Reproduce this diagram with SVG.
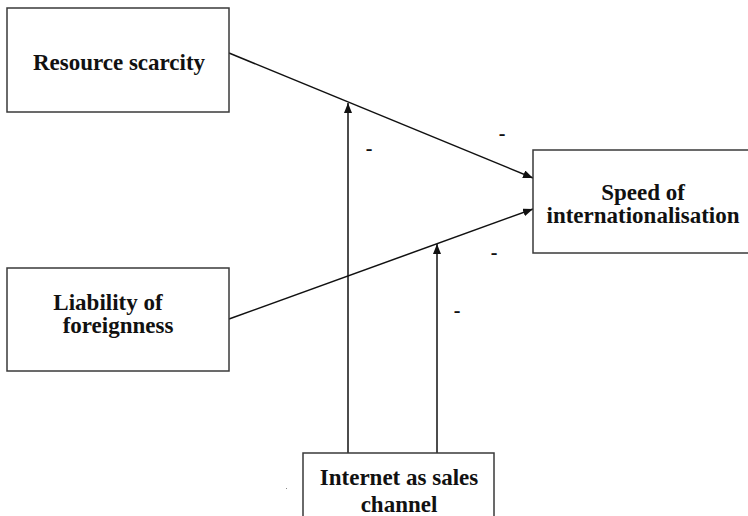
<svg xmlns="http://www.w3.org/2000/svg" width="748" height="516" viewBox="0 0 748 516">
<style>
.box{fill:#fff;stroke:#3a3a3a;stroke-width:1.5}
.lbl{font-family:'Liberation Serif','DejaVu Serif',serif;font-weight:700;font-size:23px;fill:#111;text-anchor:middle}
.sign{font-family:'Liberation Serif','DejaVu Serif',serif;font-weight:700;font-size:20px;fill:#111;text-anchor:middle}
.conn{stroke:#111;stroke-width:1.5;fill:none;marker-end:url(#arr)}
</style>
<defs>
<marker id="arr" viewBox="0 0 10 8" refX="10" refY="4" markerWidth="10" markerHeight="8" markerUnits="userSpaceOnUse" orient="auto">
<path d="M0,0 L10,4 L0,8 Z" fill="#111"/>
</marker>
</defs>
<rect width="748" height="516" fill="#fff"/>
<g id="connectors">
<line class="conn" x1="229" y1="53" x2="533" y2="178"/>
<line class="conn" x1="229" y1="319" x2="533" y2="209"/>
<line class="conn" x1="348" y1="453" x2="348" y2="103"/>
<line class="conn" x1="437" y1="453" x2="437" y2="244"/>
<text class="sign" x="369" y="155">-</text>
<text class="sign" x="502" y="140">-</text>
<text class="sign" x="494" y="259">-</text>
<text class="sign" x="457" y="317">-</text>
</g>
<g id="resource">
<rect class="box" x="7" y="8" width="222" height="104"/>
<text class="lbl" x="119" y="70">Resource scarcity</text>
</g>
<g id="liability">
<rect class="box" x="7" y="268" width="222" height="103"/>
<text class="lbl" x="108" y="310">Liability of</text>
<text class="lbl" x="118" y="333">foreignness</text>
</g>
<g id="speed">
<rect class="box" x="533" y="150" width="220" height="103"/>
<text class="lbl" x="643" y="200">Speed of</text>
<text class="lbl" x="643" y="223">internationalisation</text>
</g>
<g id="internet">
<rect class="box" x="303" y="453" width="191" height="70"/>
<text class="lbl" x="399" y="485">Internet as sales</text>
<text class="lbl" x="399" y="512">channel</text>
</g>
<rect x="286" y="488" width="1" height="1" fill="#888"/>
</svg>
